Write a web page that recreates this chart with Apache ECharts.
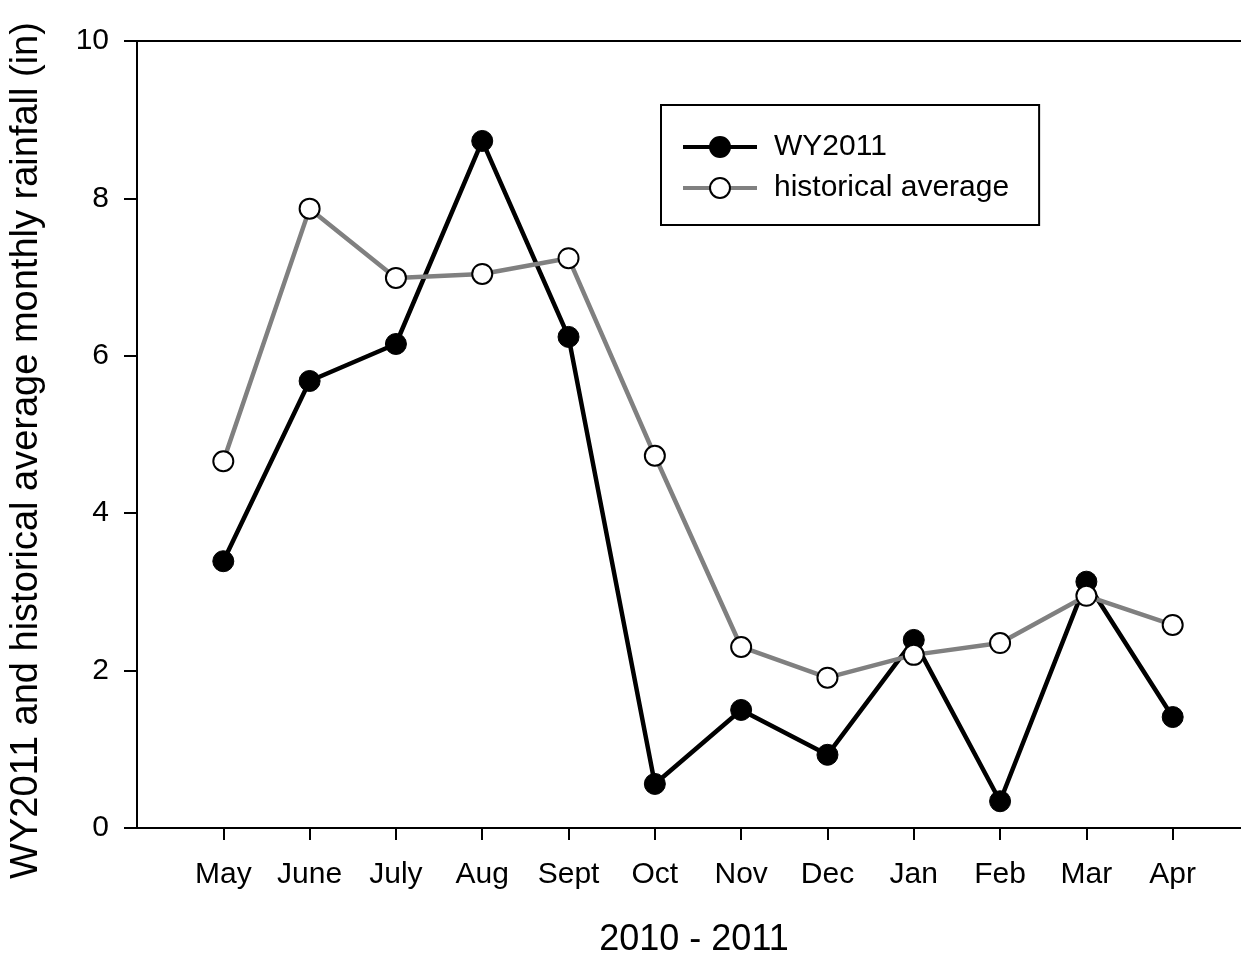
<!DOCTYPE html>
<html>
<head>
<meta charset="utf-8">
<script src="https://cdn.jsdelivr.net/npm/echarts@6/dist/echarts.min.js"></script>
<style>
  html, body { margin: 0; padding: 0; background: #fff; }
  #chart { width: 1241px; height: 956px; }
</style>
</head>
<body>
<div id="chart"></div>
<script>
// Monthly rainfall, water year 2011 vs. historical average (inches)
const months = ['May', 'June', 'July', 'Aug', 'Sept', 'Oct', 'Nov', 'Dec', 'Jan', 'Feb', 'Mar', 'Apr'];
const wy2011 = [3.39, 5.68, 6.15, 8.73, 6.24, 0.56, 1.50, 0.93, 2.39, 0.34, 3.13, 1.41];
const historical = [4.66, 7.87, 6.99, 7.04, 7.24, 4.73, 2.30, 1.91, 2.20, 2.35, 2.95, 2.58];
const yTicks = [0, 2, 4, 6, 8, 10];

const FONT = 'Liberation Sans, Arial, sans-serif';
const monthPos = months.map((m, i) => i + 1);
const toPoints = vals => vals.map((v, i) => [i + 1, v]);
// one empty slot on each side of the months; the right one runs past the canvas edge
const xMax = months.length + 1;

const chart = echarts.init(document.getElementById('chart'), null, { renderer: 'canvas' });
chart.setOption({
  animation: false,
  backgroundColor: '#fff',
  grid: { left: 137, top: 41, bottom: 128, right: -18, outerBoundsMode: 'none', containLabel: false },
  legend: {
    orient: 'vertical',
    left: 661, top: 105,
    padding: [27, 30, 22, 20],
    borderColor: '#000', borderWidth: 2,
    itemWidth: 74, itemHeight: 25, itemGap: 11,
    lineStyle: { width: 4 },
    textStyle: { fontFamily: FONT, fontSize: 30, color: '#000', padding: [0, 0, 0, 12] },
    data: ['WY2011', 'historical average']
  },
  xAxis: [
    {
      type: 'value',
      min: 0, max: xMax, interval: 1,
      name: '2010 - 2011',
      nameLocation: 'middle',
      nameGap: 94,
      nameTextStyle: { fontFamily: FONT, fontSize: 36, color: '#000', padding: [0, 8, 0, 0] },
      axisLine: { lineStyle: { color: '#000', width: 2 } },
      axisTick: { show: true, length: 12, lineStyle: { color: '#000', width: 2 }, customValues: monthPos },
      axisLabel: {
        fontFamily: FONT, fontSize: 30, color: '#000', margin: 32,
        customValues: monthPos,
        formatter: v => months[v - 1] || ''
      },
      splitLine: { show: false }
    },
    {
      // top frame line
      type: 'value',
      position: 'top',
      min: 0, max: xMax,
      axisLine: { show: true, onZero: false, lineStyle: { color: '#000', width: 2 } },
      axisTick: { show: false },
      axisLabel: { show: false },
      splitLine: { show: false }
    }
  ],
  yAxis: {
    type: 'value',
    min: 0, max: 10, interval: 2,
    name: 'WY2011 and historical average monthly rainfall (in)',
    nameLocation: 'middle',
    nameGap: 91,
    nameTextStyle: { fontFamily: FONT, fontSize: 38, color: '#000', padding: [0, 32, 0, 0] },
    axisLine: { show: true, lineStyle: { color: '#000', width: 2 } },
    axisTick: { show: true, length: 13, lineStyle: { color: '#000', width: 2 }, customValues: yTicks },
    axisLabel: { fontFamily: FONT, fontSize: 30, color: '#000', margin: 28, customValues: yTicks },
    splitLine: { show: false }
  },
  series: [
    {
      name: 'WY2011',
      type: 'line',
      data: toPoints(wy2011),
      symbol: 'circle',
      symbolSize: 21,
      lineStyle: { color: '#000', width: 4.5 },
      itemStyle: { color: '#000', borderColor: '#000', borderWidth: 1 },
      z: 2
    },
    {
      name: 'historical average',
      type: 'line',
      data: toPoints(historical),
      symbol: 'circle',
      symbolSize: 20,
      showAllSymbol: true,
      lineStyle: { color: '#808080', width: 4.5 },
      itemStyle: { color: '#fff', borderColor: '#000', borderWidth: 2 },
      z: 3
    }
  ]
});
</script>
</body>
</html>
